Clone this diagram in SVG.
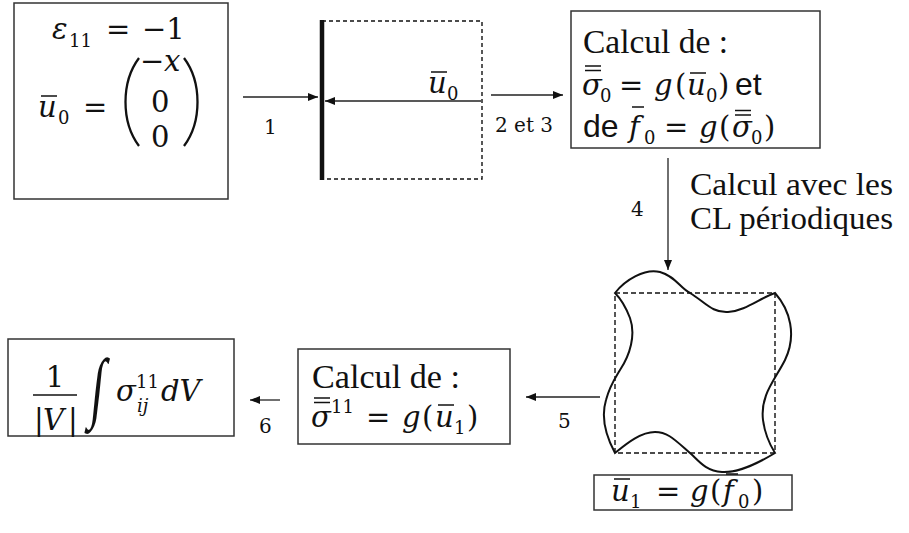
<svg xmlns="http://www.w3.org/2000/svg" width="909" height="533" viewBox="0 0 909 533">
<style>
.box{fill:#fff;stroke:#333;stroke-width:1.5}
.ln{stroke:#222;stroke-width:1.3;fill:none}
.bar{stroke:#111;stroke-width:1.5;fill:none}
.t{font-family:"Liberation Serif",serif;fill:#111}
.m{font-family:"DejaVu Serif",serif;fill:#111;font-size:29px}
.mi{font-family:"DejaVu Serif",serif;font-style:italic;fill:#111;font-size:29px}
.sb{font-family:"DejaVu Serif",serif;fill:#111;font-size:18px}
.sbi{font-family:"DejaVu Serif",serif;font-style:italic;fill:#111;font-size:18px}
.s{font-family:"Liberation Sans",sans-serif;fill:#111;font-size:32px}
.lab{font-family:"DejaVu Serif",serif;font-size:20px;fill:#111}
</style>
<defs>
<marker id="ah" viewBox="0 0 10 8" refX="10" refY="4" markerWidth="10" markerHeight="8" markerUnits="userSpaceOnUse" orient="auto">
<path d="M0,0 L10,4 L0,8 Z" fill="#111"/>
</marker>
</defs>

<g id="connectors">
<line class="ln" x1="243" y1="97" x2="318" y2="97" marker-end="url(#ah)"/>
<line class="ln" x1="491" y1="95" x2="563" y2="95" marker-end="url(#ah)"/>
<line class="ln" x1="668" y1="158" x2="668" y2="270" marker-end="url(#ah)"/>
<line class="ln" x1="600" y1="397" x2="526" y2="397" marker-end="url(#ah)"/>
<line class="ln" x1="280" y1="400" x2="250" y2="400" marker-end="url(#ah)"/>
<text class="lab" x="264" y="134">1</text>
<text class="lab" x="495" y="132">2 et 3</text>
<text class="lab" x="631" y="216">4</text>
<text class="lab" x="558" y="428">5</text>
<text class="lab" x="259" y="433">6</text>
<text class="t" x="690" y="195" font-size="32" textLength="203" lengthAdjust="spacingAndGlyphs">Calcul avec les</text>
<text class="t" x="690" y="229" font-size="32" textLength="203" lengthAdjust="spacingAndGlyphs">CL périodiques</text>
</g>

<g id="n1">
<rect class="box" x="14" y="3" width="214" height="196"/>
<text class="mi" x="52" y="39">ε</text>
<text class="sb" x="69" y="47">11</text>
<text class="m" x="106" y="39">=</text>
<text class="m" x="142" y="39">−1</text>
<text class="mi" x="38" y="117">u</text>
<line class="bar" x1="41" y1="96" x2="57" y2="96"/>
<text class="sb" x="58" y="124">0</text>
<text class="m" x="83" y="117">=</text>
<path d="M139,58 C121,82 121,122 139,146" stroke="#111" stroke-width="2.3" fill="none"/>
<path d="M184,58 C202,82 202,122 184,146" stroke="#111" stroke-width="2.3" fill="none"/>
<text class="m" x="140" y="71">−</text>
<text class="mi" x="164" y="71">x</text>
<text class="m" x="151" y="112">0</text>
<text class="m" x="151" y="147">0</text>
</g>

<g id="n2">
<rect x="322" y="21" width="160" height="158" fill="none" stroke="#111" stroke-width="1.4" stroke-dasharray="4,3"/>
<line x1="322" y1="20" x2="322" y2="180" stroke="#111" stroke-width="4.5"/>
<line class="ln" x1="481" y1="101" x2="325" y2="101" marker-end="url(#ah)"/>
<text class="mi" x="428" y="93">u</text>
<line class="bar" x1="431" y1="72" x2="447" y2="72"/>
<text class="sb" x="447" y="100">0</text>
</g>

<g id="n3">
<rect class="box" x="571" y="11" width="249" height="137"/>
<text class="t" x="583" y="53" font-size="33" textLength="145" lengthAdjust="spacingAndGlyphs">Calcul de :</text>
<text class="mi" x="582" y="95">σ</text>
<line class="bar" x1="585" y1="66" x2="601" y2="66"/>
<line class="bar" x1="585" y1="70.5" x2="601" y2="70.5"/>
<text class="sb" x="600" y="102">0</text>
<text class="m" x="619" y="95">=</text>
<text class="mi" x="654" y="95">g</text>
<text class="m" x="675" y="95">(</text>
<text class="mi" x="687" y="95">u</text>
<line class="bar" x1="690" y1="73" x2="706" y2="73"/>
<text class="sb" x="706" y="102">0</text>
<text class="m" x="718" y="95">)</text>
<text class="s" x="735" y="95">et</text>
<text class="s" x="583" y="137">de</text>
<text class="mi" x="629" y="137">f</text>
<line class="bar" x1="632" y1="107" x2="644" y2="107"/>
<text class="sb" x="644" y="144">0</text>
<text class="m" x="664" y="137">=</text>
<text class="mi" x="699" y="137">g</text>
<text class="m" x="719" y="137">(</text>
<text class="mi" x="732" y="137">σ</text>
<line class="bar" x1="735" y1="110.5" x2="751" y2="110.5"/>
<line class="bar" x1="735" y1="115" x2="751" y2="115"/>
<text class="sb" x="751" y="144">0</text>
<text class="m" x="764" y="137">)</text>
</g>

<g id="n4">
<rect x="615" y="293" width="160" height="160" fill="none" stroke="#111" stroke-width="1.4" stroke-dasharray="5,3"/>
<path d="M615,293 C625,280 645,268 660,272 C675,276 680,288 690,293 C705,302 712,313 728,312 C745,311 760,298 775,293 C790,310 797,335 785,360 C775,380 760,395 763,420 C765,435 770,445 775,453 C760,462 740,473 722,472 C705,471 698,460 690,453 C675,440 668,432 655,432 C640,432 625,445 615,453 C608,440 600,420 606,400 C610,385 614,380 620,370 C630,355 636,335 630,318 C625,305 620,298 615,293 Z" fill="none" stroke="#111" stroke-width="2"/>
</g>

<g id="n5">
<rect class="box" x="594" y="475" width="198" height="35"/>
<text class="mi" x="611" y="501">u</text>
<line class="bar" x1="614" y1="479" x2="630" y2="479"/>
<text class="sb" x="630" y="508">1</text>
<text class="m" x="656" y="501">=</text>
<text class="mi" x="690" y="501">g</text>
<text class="m" x="710" y="501">(</text>
<text class="mi" x="723" y="501">f</text>
<line class="bar" x1="726" y1="474" x2="738" y2="474"/>
<text class="sb" x="738" y="508">0</text>
<text class="m" x="752" y="501">)</text>
</g>

<g id="n6">
<rect class="box" x="298" y="349" width="212" height="95"/>
<text class="t" x="312" y="388" font-size="33" textLength="148" lengthAdjust="spacingAndGlyphs">Calcul de :</text>
<text class="mi" x="311" y="427">σ</text>
<line class="bar" x1="314" y1="398" x2="330" y2="398"/>
<line class="bar" x1="314" y1="402.5" x2="330" y2="402.5"/>
<text class="sb" x="331" y="413">11</text>
<text class="m" x="366" y="427">=</text>
<text class="mi" x="402" y="427">g</text>
<text class="m" x="422" y="427">(</text>
<text class="mi" x="435" y="427">u</text>
<line class="bar" x1="438" y1="405" x2="454" y2="405"/>
<text class="sb" x="454" y="434">1</text>
<text class="m" x="467" y="427">)</text>
</g>

<g id="n7">
<rect class="box" x="8" y="339" width="226" height="97"/>
<text class="m" x="55" y="387" text-anchor="middle">1</text>
<line x1="33" y1="395" x2="77" y2="395" stroke="#111" stroke-width="1.5"/>
<text class="m" x="34" y="430">|</text>
<text class="mi" x="43" y="430">V</text>
<text class="m" x="68" y="430">|</text>
<text class="t" x="0" y="0" font-size="78" transform="translate(89,413) scale(0.6,1) skewX(-10)">∫</text>
<text class="mi" x="116" y="401">σ</text>
<text class="sb" x="136" y="388">11</text>
<text class="sbi" x="137" y="412">ij</text>
<text class="mi" x="161" y="401">dV</text>
</g>
</svg>
